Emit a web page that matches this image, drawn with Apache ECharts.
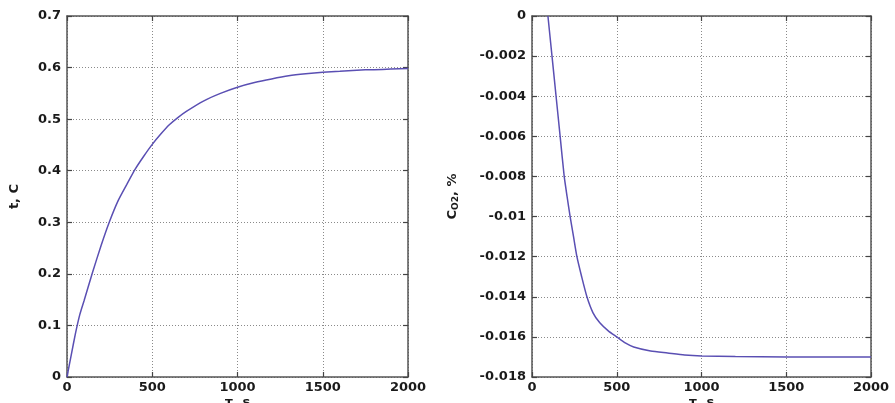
<!DOCTYPE html>
<html>
<head>
<meta charset="utf-8">
<script src="https://cdn.jsdelivr.net/npm/echarts@6/dist/echarts.min.js"></script>
<style>html,body{margin:0;padding:0;background:#fff}#c{width:895px;height:403px}</style>
</head>
<body>
<div id="c"></div>
<script>
// Left chart: temperature t, C vs time tau, s
const leftTime = [0, 25, 50, 75, 100, 150, 200, 250, 300, 350, 400, 450, 500, 550, 600, 650, 700, 800, 900, 1000, 1100, 1200, 1300, 1400, 1500, 1600, 1700, 1800, 1900, 2000];
const leftTemp = [0, 0.043, 0.085, 0.121, 0.148, 0.203, 0.255, 0.302, 0.342, 0.373, 0.403, 0.428, 0.451, 0.471, 0.489, 0.503, 0.515, 0.535, 0.550, 0.562, 0.571, 0.578, 0.584, 0.588, 0.591, 0.593, 0.595, 0.596, 0.597, 0.598];
// Right chart: C_O2, % vs time tau, s
const rightTime = [94, 118, 142, 166, 190, 207, 225, 245, 265, 293, 324, 360, 400, 450, 500, 550, 600, 700, 800, 900, 1000, 1200, 1500, 2000];
const rightConc = [0, -0.002, -0.004, -0.006, -0.008, -0.009, -0.010, -0.011, -0.012, -0.013, -0.014, -0.0148, -0.0153, -0.0157, -0.016, -0.0163, -0.0165, -0.0167, -0.0168, -0.0169, -0.01695, -0.01698, -0.0170, -0.0170];
const xTicks = [0, 500, 1000, 1500, 2000];
const leftYTicks = [0, 0.1, 0.2, 0.3, 0.4, 0.5, 0.6, 0.7];
const rightYTicks = [-0.018, -0.016, -0.014, -0.012, -0.01, -0.008, -0.006, -0.004, -0.002, 0];

const font = 'DejaVu Sans';
const labelStyle = {color: '#1a1a1a', fontFamily: font, fontWeight: 'bold', fontSize: 13};
const axisLine = {show: true, onZero: false, lineStyle: {color: '#555', width: 1.5}};
const tick = {show: true, inside: true, length: 5, lineStyle: {color: '#444', width: 1.2}};
const split = {show: true, lineStyle: {color: '#8a8a8a', width: 1, type: [1, 2]}};
const plain = v => String(Math.round(v * 1e6) / 1e6);

function mainX(gi) {
  return {type: 'value', gridIndex: gi, min: xTicks[0], max: xTicks[xTicks.length - 1], interval: 500,
    axisLine, axisTick: tick, splitLine: split,
    axisLabel: Object.assign({margin: 4, formatter: plain}, labelStyle),
    name: 'τ, s', nameLocation: 'middle', nameGap: 19, nameMoveOverlap: false,
    nameTextStyle: Object.assign({}, labelStyle)};
}
function topX(gi) {
  return {type: 'value', gridIndex: gi, position: 'top', min: xTicks[0], max: xTicks[xTicks.length - 1], interval: 500,
    axisLine, axisTick: tick, splitLine: {show: false}, axisLabel: {show: false}};
}
function sideY(gi, mn, mx, iv) {
  return {type: 'value', gridIndex: gi, position: 'right', min: mn, max: mx, interval: iv,
    axisLine, axisTick: tick, splitLine: {show: false}, axisLabel: {show: false}};
}

const option = {
  animation: false,
  backgroundColor: '#fff',
  grid: [
    {left: 67, top: 16, width: 341, height: 361, containLabel: false, outerBoundsMode: 'none'},
    {left: 532, top: 16, width: 339, height: 361, containLabel: false, outerBoundsMode: 'none'}
  ],
  xAxis: [mainX(0), topX(0), mainX(1), topX(1)],
  yAxis: [
    {type: 'value', gridIndex: 0, min: leftYTicks[0], max: leftYTicks[leftYTicks.length - 1], interval: 0.1,
      axisLine, axisTick: tick, splitLine: split,
      axisLabel: Object.assign({margin: 6, formatter: plain}, labelStyle),
      name: 't, C', nameLocation: 'middle', nameGap: 46, nameRotate: 90, nameMoveOverlap: false,
      nameTextStyle: Object.assign({}, labelStyle)},
    sideY(0, leftYTicks[0], leftYTicks[leftYTicks.length - 1], 0.1),
    {type: 'value', gridIndex: 1, min: rightYTicks[0], max: rightYTicks[rightYTicks.length - 1], interval: 0.002,
      axisLine, axisTick: tick, splitLine: split,
      axisLabel: Object.assign({margin: 6, formatter: plain}, labelStyle),
      name: '{a|C}{s|O2}{a|, %}', nameLocation: 'middle', nameGap: 72, nameRotate: 90, nameMoveOverlap: false,
      nameTextStyle: {rich: {
        a: Object.assign({}, labelStyle),
        s: Object.assign({}, labelStyle, {fontSize: 9, verticalAlign: 'bottom', padding: [6, 0, 0, 0]})
      }}},
    sideY(1, rightYTicks[0], rightYTicks[rightYTicks.length - 1], 0.002)
  ],
  series: [
    {type: 'line', xAxisIndex: 0, yAxisIndex: 0, showSymbol: false, smooth: 0.2,
      lineStyle: {color: '#5a4fb3', width: 1.5},
      data: leftTime.map((t, i) => [t, leftTemp[i]])},
    {type: 'line', xAxisIndex: 2, yAxisIndex: 2, showSymbol: false, smooth: 0.2,
      lineStyle: {color: '#5a4fb3', width: 1.5},
      data: rightTime.map((t, i) => [t, rightConc[i]])}
  ]
};
const chart = echarts.init(document.getElementById('c'), null, {renderer: 'canvas'});
chart.setOption(option);
</script>
</body>
</html>
